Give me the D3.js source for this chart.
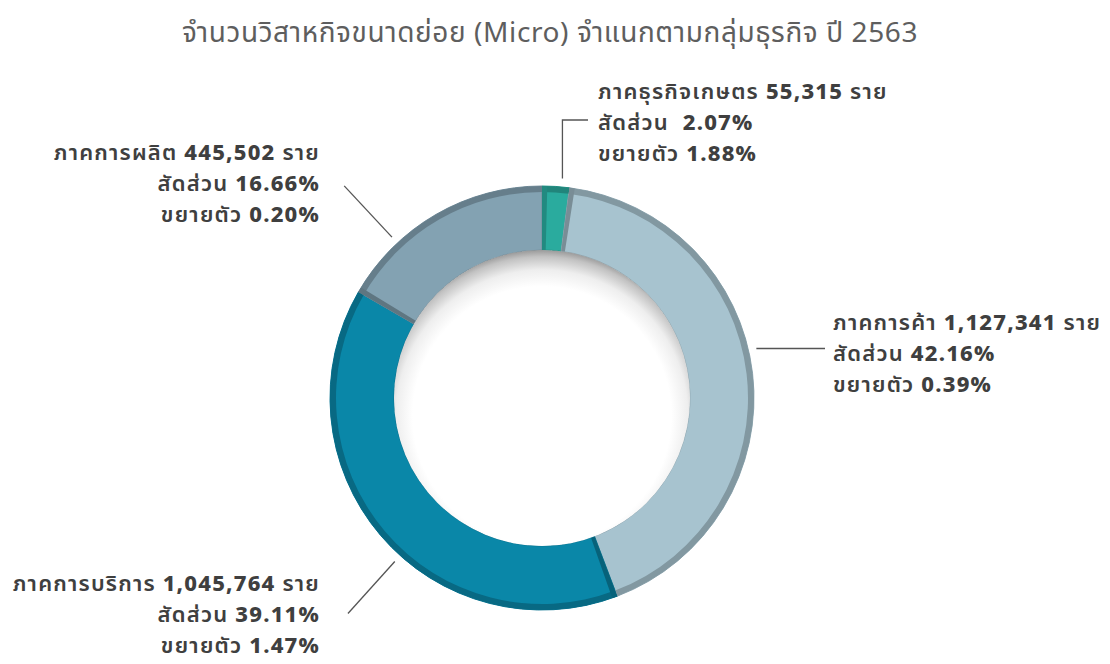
<!DOCTYPE html>
<html>
<head>
<meta charset="utf-8">
<script src="https://cdn.jsdelivr.net/npm/d3@7"></script>
<style>
  body { margin: 0; background: #fff; }
  svg { display: block; font-family: "Noto Sans Thai", "Noto Sans", "DejaVu Sans", sans-serif; }
</style>
</head>
<body>
<svg id="chart" width="1110" height="664"></svg>
<script>
// data
const sectors = ["ภาคธุรกิจเกษตร", "ภาคการค้า", "ภาคการบริการ", "ภาคการผลิต"];
const counts = [55315, 1127341, 1045764, 445502];
const shares = ["2.07", "42.16", "39.11", "16.66"];
const growth = ["1.88", "0.39", "1.47", "0.20"];
const colours = ["#2aab9e", "#a7c3cf", "#0a87a8", "#83a2b2"];

const title = "จำนวนวิสาหกิจขนาดย่อย (Micro) จำแนกตามกลุ่มธุรกิจ ปี 2563";

const W = 1110, H = 664;
const cx = 542, cy = 398, rOuter = 212, rInner = 148;

// label layout: x, first baseline, anchor, leader angle (deg)
const labelLayout = [
  { x: 598, y: 99, anchor: "start", ang: 3.5 },
  { x: 833, y: 330, anchor: "start", ang: 77 },
  { x: 320, y: 591, anchor: "end", ang: 222 },
  { x: 320, y: 160, anchor: "end", ang: 317 }
];

const svg = d3.select("#chart");
svg.append("rect").attr("width", W).attr("height", H).attr("fill", "#fff");

svg.append("text")
  .attr("x", 550).attr("y", 42)
  .attr("text-anchor", "middle")
  .attr("font-size", 28)
  .attr("letter-spacing", 0.6)
  .attr("fill", "#5e5e5e")
  .text(title);

const defs = svg.append("defs");
const hole = defs.append("radialGradient").attr("id", "hole")
  .attr("cx", "50%").attr("cy", "56%").attr("r", "56%");
[[0, "#fff"], [0.78, "#fff"], [0.88, "#eeeeee"], [0.96, "#c2c2c2"], [1, "#9a9a9a"]]
  .forEach(s => hole.append("stop").attr("offset", s[0]).attr("stop-color", s[1]));

const pie = d3.pie().sort(null).value(d => d)(counts);
const arc = d3.arc().innerRadius(rInner).outerRadius(rOuter);
const rim = d3.arc().innerRadius(rOuter - 6).outerRadius(rOuter);
const g = svg.append("g").attr("transform", `translate(${cx},${cy})`);

g.selectAll("path.slice").data(pie).enter().append("path")
  .attr("class", "slice")
  .attr("d", arc)
  .attr("fill", (d, i) => colours[i])
  .attr("stroke", (d, i) => d3.color(colours[i]).darker(0.4))
  .attr("stroke-width", 1);

// outer rim
g.selectAll("path.rim").data(pie).enter().append("path")
  .attr("d", rim)
  .attr("fill", (d, i) => d3.color(colours[i]).darker(0.7));

// side strips at slice start
const strip = 0.025;
g.selectAll("path.side").data(pie).enter().append("path")
  .attr("d", d => arc({ startAngle: d.startAngle, endAngle: d.startAngle + strip }))
  .attr("fill", (d, i) => i === 0 ? d3.color(colours[0]).darker(0.6) : d3.color(colours[i]).darker(0.9));

g.append("circle").attr("r", rInner).attr("fill", "url(#hole)");

// labels
const lab = svg.append("g").attr("fill", "#3f3f3f").attr("font-size", 22).attr("letter-spacing", 1.2);
labelLayout.forEach((L, i) => {
  const lines = [
    [sectors[i] + " ", d3.format(",")(counts[i]), " ราย"],
    ["สัดส่วน " + (i === 0 ? " " : ""), shares[i] + "%", ""],
    ["ขยายตัว ", growth[i] + "%", ""]
  ];
  lines.forEach((ln, j) => {
    const row = lab.append("text").attr("text-anchor", L.anchor)
      .attr("x", L.x).attr("y", L.y + j * 31).attr("xml:space", "preserve");
    row.append("tspan").attr("font-weight", 600).text(ln[0]);
    row.append("tspan").attr("font-weight", 800).text(ln[1]);
    if (ln[2]) row.append("tspan").attr("font-weight", 600).text(ln[2]);
  });
});

// leader lines
const a = d => d * Math.PI / 180;
const pt = (deg, r) => [cx + r * Math.sin(a(deg)), cy - r * Math.cos(a(deg))];
const leaders = svg.append("g").attr("fill", "none").attr("stroke", "#555").attr("stroke-width", 1.3);
labelLayout.forEach((L, i) => {
  let p0 = pt(L.ang, rOuter + 8), pts;
  if (i === 0) pts = [[p0[0] + 7, p0[1]], [p0[0] + 7, 120], [588, 120]];
  else if (i === 1) pts = [[p0[0], p0[1]], [825, p0[1]]];
  else {
    const p1 = pt(L.ang, rOuter + 78);
    pts = [p0, p1];
  }
  leaders.append("path").attr("d", d3.line()(pts));
});
</script>
</body>
</html>
